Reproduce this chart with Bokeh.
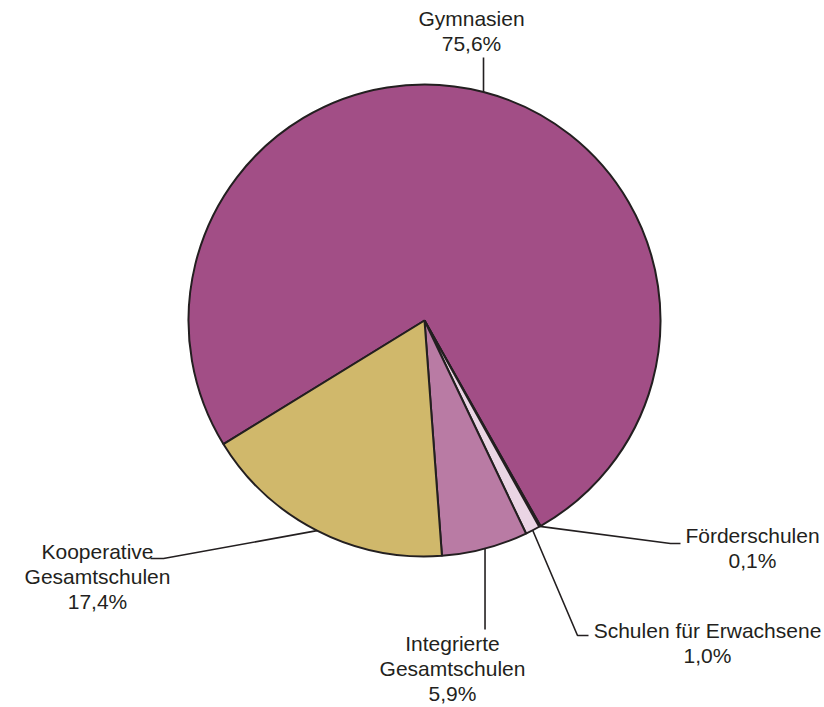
import numpy as np
from bokeh.plotting import figure
from bokeh.models import Range1d, ColumnDataSource
from bokeh.core.properties import value
from bokeh.embed import file_html
from bokeh.resources import INLINE

# ---- data ----
categories = ["Gymnasien", "Förderschulen", "Schulen für Erwachsene",
              "Integrierte Gesamtschulen", "Kooperative Gesamtschulen"]
label_lines = [["Gymnasien"], ["Förderschulen"], ["Schulen für Erwachsene"],
               ["Integrierte", "Gesamtschulen"], ["Kooperative", "Gesamtschulen"]]
shares = [75.6, 0.1, 1.0, 5.9, 17.4]
colors = ["#A24E86", "#E8CFE0", "#EAD5E4", "#B97BA4", "#D0B86B"]

# ---- layout (reference pixel coordinates) ----
W, H = 824, 707
CX, CY, R = 424, 320, 236
START_DEG = 211.6  # first slice starts here and runs clockwise
INK = "#231F20"
FONT = "Liberation Sans"

# label anchor: (center x, y of first line), leader points after the edge point
label_pos = {
    "Gymnasien": (471, 18),
    "Förderschulen": (752, 535),
    "Schulen für Erwachsene": (707, 630),
    "Integrierte Gesamtschulen": (452, 643),
    "Kooperative Gesamtschulen": (97, 551),
}
leader_pts = {
    "Gymnasien": [(None, 57)],
    "Förderschulen": [(670, 543), (680, 543)],
    "Schulen für Erwachsene": [(577, 635), (588, 635)],
    "Integrierte Gesamtschulen": [(None, 629)],
    "Kooperative Gesamtschulen": [(163, 558), (150, 558)],
}
LINE_H = 25


def Y(py):
    return H - py


p = figure(width=W, height=H, output_backend="svg", toolbar_location=None,
           x_range=Range1d(0, W), y_range=Range1d(0, H),
           min_border=0, outline_line_color=None)
p.axis.visible = False
p.grid.visible = False
p.background_fill_color = "white"

vals = np.array(shares)
ang = vals / vals.sum() * 2 * np.pi
start0 = np.deg2rad(START_DEG)
ends = start0 - np.concatenate([[0], np.cumsum(ang)[:-1]])
starts = ends - ang
mids = (starts + ends) / 2

src = ColumnDataSource(dict(x=[CX] * len(vals), y=[Y(CY)] * len(vals),
                            start=starts, end=ends, color=colors))
p.wedge(x="x", y="y", radius=R, start_angle="start", end_angle="end",
        direction="anticlock", fill_color="color", line_color=INK,
        line_width=2, source=src)

for cat, lines, v, m in zip(categories, label_lines, shares, mids):
    ex = CX + R * np.cos(m)
    ey = CY - R * np.sin(m)
    xs, ys = [ex], [ey]
    for (px, py) in leader_pts[cat]:
        xs.append(ex if px is None else px)
        ys.append(py)
    p.line(xs, [Y(y) for y in ys], line_color=INK, line_width=1.6)
    tx, ty = label_pos[cat]
    texts = lines + [f"{v:.1f}".replace(".", ",") + "%"]
    p.text(x=[tx] * len(texts), y=[Y(ty + i * LINE_H) for i in range(len(texts))],
           text=texts, text_align="center", text_baseline="middle",
           text_font=value(FONT), text_font_size="21px", text_color=INK)

open("out.html", "w").write(file_html(p, INLINE))
